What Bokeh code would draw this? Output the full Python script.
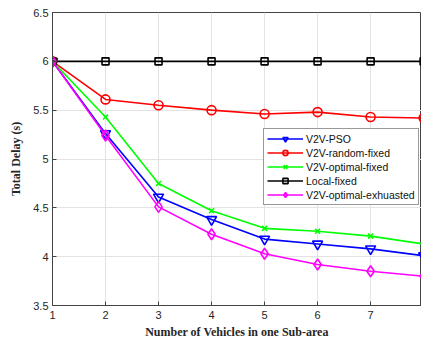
from bokeh.plotting import figure
from bokeh.models import FixedTicker, Range1d, Legend
from bokeh.embed import file_html
from bokeh.resources import INLINE

vehicles = [1, 2, 3, 4, 5, 6, 7, 8]
v2v_pso = [6.0, 5.26, 4.61, 4.38, 4.18, 4.13, 4.08, 4.01]
v2v_random_fixed = [6.0, 5.61, 5.55, 5.50, 5.46, 5.48, 5.43, 5.42]
v2v_optimal_fixed = [6.0, 5.43, 4.75, 4.47, 4.29, 4.26, 4.21, 4.13]
local_fixed = [6.0, 6.0, 6.0, 6.0, 6.0, 6.0, 6.0, 6.0]
v2v_optimal_exhausted = [6.0, 5.24, 4.51, 4.23, 4.03, 3.92, 3.85, 3.80]

x_ticks = [1, 2, 3, 4, 5, 6, 7, 8]
y_ticks = [3.5, 4.0, 4.5, 5.0, 5.5, 6.0, 6.5]
y_tick_labels = ["3.5", "4", "4.5", "5", "5.5", "6", "6.5"]

p = figure(width=421, height=341, output_backend="svg", toolbar_location=None,
           x_range=Range1d(1, 7.96), y_range=Range1d(3.5, 6.5),
           min_border_left=52, min_border_right=0, min_border_top=12, min_border_bottom=36)

p.background_fill_color = "white"
p.border_fill_color = "white"
p.outline_line_color = "#444444"
p.outline_line_width = 1

for ax in (p.xaxis[0], p.yaxis[0]):
    ax.major_tick_in = 4
    ax.major_tick_out = 0
    ax.minor_tick_line_color = None
    ax.axis_line_color = "#444444"
    ax.major_tick_line_color = "#444444"
    ax.major_label_text_font = "Liberation Sans"
    ax.major_label_text_font_size = "11px"
    ax.major_label_text_color = "#262626"
    ax.axis_label_text_font = "Liberation Serif"
    ax.axis_label_text_font_style = "bold"
    ax.axis_label_text_font_size = "12px"
    ax.axis_label_text_color = "#262626"

p.xaxis[0].ticker = FixedTicker(ticks=x_ticks)
p.yaxis[0].ticker = FixedTicker(ticks=y_ticks)
p.yaxis[0].major_label_overrides = {float(t): l for t, l in zip(y_ticks, y_tick_labels)}
p.xaxis[0].axis_label = "Number of Vehicles in one Sub-area"
p.yaxis[0].axis_label = "Total Delay (s)"
p.xaxis[0].major_label_standoff = 5
p.xaxis[0].axis_label_standoff = 3
p.yaxis[0].major_label_standoff = 4
p.yaxis[0].axis_label_standoff = 7

p.xgrid.ticker = FixedTicker(ticks=x_ticks)
p.ygrid.ticker = FixedTicker(ticks=y_ticks)
p.grid.grid_line_color = "#e3e3e3"
p.grid.grid_line_width = 1

series = [
    ("V2V-PSO", v2v_pso, "#0000ff", "inverted_triangle", 10),
    ("V2V-random-fixed", v2v_random_fixed, "#ff0000", "circle", 9),
    ("V2V-optimal-fixed", v2v_optimal_fixed, "#00ff00", "x", 7),
    ("Local-fixed", local_fixed, "#000000", "square", 7),
    ("V2V-optimal-exhuasted", v2v_optimal_exhausted, "#ff00ff", "diamond", 11),
]

items = []
for name, ys, color, marker, size in series:
    l = p.line(vehicles, ys, line_color=color, line_width=1.6)
    m = p.scatter(vehicles, ys, marker=marker, size=size, line_color=color,
                  fill_color=None, line_width=1.6)
    items.append((name, [l, m]))

legend = Legend(items=items, location=(211, 100))
legend.label_text_font = "Liberation Sans"
legend.label_text_font_size = "10.5px"
legend.label_text_color = "#111111"
legend.glyph_width = 36
legend.glyph_height = 13
legend.label_height = 13
legend.spacing = 1
legend.padding = 3
legend.margin = 0
legend.label_standoff = 3
legend.border_line_color = "#333333"
legend.border_line_width = 1
legend.background_fill_color = "white"
legend.background_fill_alpha = 1
p.add_layout(legend, "center")

open("out.html", "w").write(file_html(p, INLINE))
